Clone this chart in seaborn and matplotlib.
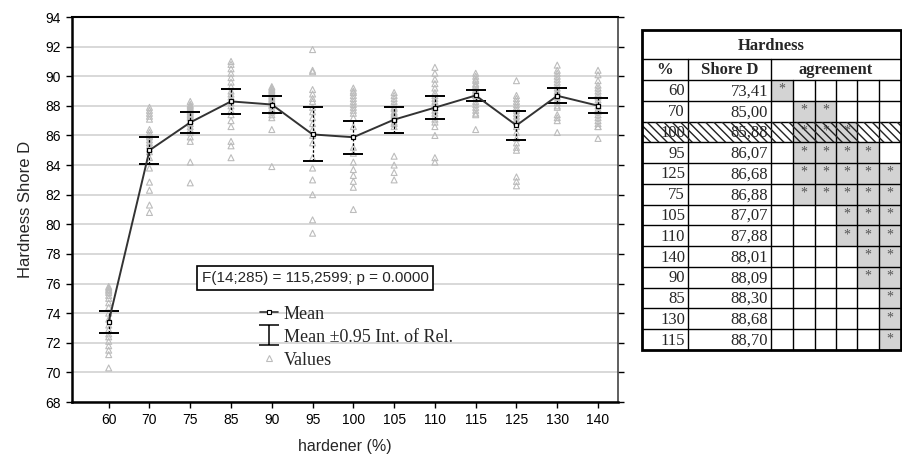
import numpy as np
import pandas as pd
import matplotlib
matplotlib.use("Agg")
import matplotlib.pyplot as plt
import seaborn as sns
from matplotlib.lines import Line2D
from matplotlib.patches import Rectangle
from matplotlib.path import Path

# ---------------- data ----------------
categories = ["60", "70", "75", "85", "90", "95", "100", "105", "110", "115", "125", "130", "140"]
means = [73.41, 85.00, 86.88, 88.30, 88.09, 86.07, 85.88, 87.07, 87.88, 88.70, 86.68, 88.68, 88.01]
ci_half = [0.75, 0.91, 0.68, 0.85, 0.55, 1.82, 1.12, 0.88, 0.80, 0.37, 0.96, 0.50, 0.50]

values_60 = [75.8, 75.7, 75.6, 75.5, 75.4, 75.2, 75.0, 74.7, 74.4, 74.0, 73.6, 73.2, 72.9, 72.6, 72.4, 72.1, 71.8, 71.5, 71.2, 70.3]
values_70 = [87.9, 87.7, 87.5, 87.3, 87.1, 86.4, 86.2, 86.0, 85.9, 85.7, 85.5, 85.3, 85.1, 84.9, 84.5, 83.8, 82.85, 82.3, 81.3, 80.8]
values_75 = [88.3, 88.1, 88.0, 87.9, 87.8, 87.7, 87.6, 87.5, 87.4, 87.3, 87.2, 87.0, 86.8, 86.6, 86.4, 86.2, 85.9, 85.6, 84.2, 82.8]
values_85 = [91.0, 90.8, 90.5, 90.2, 89.9, 89.6, 89.3, 89.0, 88.8, 88.6, 88.4, 88.2, 88.0, 87.7, 87.4, 87.0, 86.6, 85.6, 85.3, 84.5]
values_90 = [89.3, 89.2, 89.1, 89.0, 88.9, 88.8, 88.7, 88.6, 88.5, 88.4, 88.3, 88.2, 88.1, 88.0, 87.8, 87.6, 87.4, 87.2, 86.4, 83.9]
values_95 = [91.8, 90.4, 90.3, 89.1, 88.8, 88.5, 88.3, 87.9, 87.6, 87.2, 86.8, 86.4, 86.0, 85.5, 84.5, 83.8, 83.0, 82.0, 80.3, 79.4]
values_100 = [89.2, 89.0, 88.9, 88.7, 88.5, 88.3, 88.1, 87.9, 87.7, 87.5, 87.2, 86.6, 85.2, 84.8, 84.2, 83.7, 83.3, 82.9, 82.5, 81.0]
values_105 = [88.9, 88.7, 88.5, 88.3, 88.1, 87.9, 87.8, 87.6, 87.5, 87.4, 87.3, 87.2, 87.1, 86.9, 86.8, 86.6, 84.6, 84.0, 83.5, 83.0]
values_110 = [90.6, 90.2, 89.8, 89.5, 89.2, 88.9, 88.7, 88.5, 88.3, 88.1, 87.9, 87.7, 87.5, 87.3, 87.1, 86.9, 86.6, 86.0, 84.5, 84.2]
values_115 = [90.2, 90.0, 89.8, 89.7, 89.5, 89.4, 89.3, 89.1, 89.0, 88.9, 88.8, 88.7, 88.5, 88.3, 88.1, 87.9, 87.7, 87.5, 87.4, 86.4]
values_125 = [89.7, 88.7, 88.5, 88.3, 88.1, 87.9, 87.7, 87.5, 87.3, 87.1, 86.9, 86.6, 86.2, 85.8, 85.5, 85.2, 85.0, 83.2, 82.9, 82.6]
values_130 = [90.75, 90.4, 90.2, 90.0, 89.8, 89.6, 89.4, 89.2, 89.0, 88.9, 88.8, 88.6, 88.4, 88.2, 88.0, 87.9, 87.4, 87.2, 87.0, 86.2]
values_140 = [90.4, 90.1, 89.7, 89.4, 89.2, 89.0, 88.8, 88.6, 88.4, 88.2, 88.0, 87.8, 87.6, 87.4, 87.2, 87.0, 86.8, 86.6, 86.6, 85.8]

values_by_cat = [values_60, values_70, values_75, values_85, values_90, values_95, values_100,
                 values_105, values_110, values_115, values_125, values_130, values_140]

yticks = list(range(68, 95, 2))
f_text = "F(14;285) = 115,2599; p = 0.0000"
legend_labels = ["Mean", "Mean \u00b10.95 Int. of Rel.", "Values"]

table_title = "Hardness"
table_headers = ["%", "Shore D", "agreement"]
agreement_groups = [
    ["60"],
    ["70", "100", "95", "125", "75"],
    ["70", "100", "95", "125", "75"],
    ["100", "95", "125", "75", "105", "110"],
    ["95", "125", "75", "105", "110", "140", "90"],
    ["125", "75", "105", "110", "140", "90", "85", "130", "115"],
]
hatched_row = "100"

# ---------------- style ----------------
sns.set_style("white")
plt.rcParams["font.family"] = ["Liberation Sans", "DejaVu Sans"]
plt.rcParams["hatch.linewidth"] = 1.0
SERIF = ["Liberation Serif", "DejaVu Serif"]

W, H = 903, 461
fig = plt.figure(figsize=(W / 100, H / 100), dpi=100)
fig.patch.set_facecolor("white")

# ---------------- main chart ----------------
ax = fig.add_axes([72 / W, (H - 402) / H, 546 / W, 385 / H])

df = pd.DataFrame({
    "hardener": np.repeat(categories, [len(v) for v in values_by_cat]),
    "value": np.concatenate(values_by_cat),
})

sns.stripplot(data=df, x="hardener", y="value", order=categories, jitter=False,
              marker="^", size=4.3, facecolor="none", edgecolor="#bcbcbc",
              linewidth=0.8, ax=ax, zorder=2)

xpos = np.arange(len(categories))
eb = ax.errorbar(xpos, means, yerr=ci_half, fmt="none", ecolor="black",
                 elinewidth=0.9, capsize=7.5, capthick=1.4, zorder=3)
eb[2][0].set_linestyle((0, (2, 1.5)))

ax.plot(xpos, means, color="#333333", lw=1.4, marker="s", ms=3.2, mfc="white",
        mec="black", mew=0.9, zorder=4)

ax.set_xlim(-0.9, 12.49)
ax.set_ylim(68, 94)
ax.set_yticks(yticks)
ax.yaxis.grid(True, color="#d2d2d2", lw=1.2)
ax.xaxis.grid(False)
ax.set_axisbelow(True)

ax.tick_params(axis="y", which="both", left=True, right=True, direction="out",
               length=4, width=1, labelsize=10, pad=4, colors="black")
ax.tick_params(axis="x", bottom=True, direction="out", length=4, width=1,
               labelsize=10, pad=4, colors="black")
for side in ["left", "bottom", "top", "right"]:
    ax.spines[side].set_visible(True)
    ax.spines[side].set_color("black")
ax.spines["left"].set_linewidth(1.8)
ax.spines["bottom"].set_linewidth(1.8)
ax.spines["top"].set_linewidth(1.5)
ax.spines["right"].set_linewidth(1.2)
ax.spines["right"].set_color("#444444")

ax.set_xlabel("hardener (%)", fontsize=11.5)
ax.set_ylabel("Hardness Shore D", fontsize=12)
ax.yaxis.set_label_coords(-0.072, 0.5)
ax.xaxis.set_label_coords(0.5, -0.095)

ax.text(0.445, 0.322, f_text, transform=ax.transAxes, ha="center", va="center",
        fontsize=11, bbox=dict(boxstyle="square,pad=0.3", fc="white", ec="black", lw=1.2),
        zorder=6)

ibeam = Path([(-0.5, 0.5), (0.5, 0.5), (0, 0.5), (0, -0.5), (-0.5, -0.5), (0.5, -0.5)],
             [Path.MOVETO, Path.LINETO, Path.MOVETO, Path.LINETO, Path.MOVETO, Path.LINETO])
handles = [
    Line2D([], [], color="#333333", lw=1.2, marker="s", ms=3.2, mfc="white", mec="black", mew=0.8),
    Line2D([], [], ls="none", marker=ibeam, ms=15, mec="black", mew=1.1),
    Line2D([], [], ls="none", marker="^", ms=4, mfc="none", mec="#bcbcbc", mew=0.8),
]
leg = ax.legend(handles, legend_labels, loc="upper left", bbox_to_anchor=(0.345, 0.25),
                frameon=False, prop={"family": SERIF, "size": 13}, handlelength=1.0,
                handletextpad=0.3, labelspacing=0.33, borderpad=0, borderaxespad=0)

# ---------------- table ----------------
tx0, ty0, tw, th = 642, 30, 259, 320
tax = fig.add_axes([tx0 / W, (H - ty0 - th) / H, tw / W, th / H])
tax.set_xlim(0, tw)
tax.set_ylim(th, 0)
tax.axis("off")

col_edges = [0, 46, 129, 151, 173, 194, 215, 237, 259]
hdr1, hdr2 = 29, 50
n_rows = len(categories)
row_h = (th - hdr2) / n_rows
order = np.argsort(means, kind="stable")
row_cats = [categories[i] for i in order]

gray = "#d3d3d3"
for r, cat in enumerate(row_cats):
    y = hdr2 + r * row_h
    for g, members in enumerate(agreement_groups):
        if cat in members:
            tax.add_patch(Rectangle((col_edges[2 + g], y), col_edges[3 + g] - col_edges[2 + g],
                                    row_h, fc=gray, ec="none", zorder=1))
    if cat == hatched_row:
        tax.add_patch(Rectangle((0, y), tw, row_h, fill=False, hatch="\\\\\\\\",
                                ec="#222222", lw=0, zorder=4))

for yb in [hdr1, hdr2] + [hdr2 + r * row_h for r in range(1, n_rows)]:
    tax.plot([0, tw], [yb, yb], color="black", lw=1.0, zorder=3, clip_on=False)
for xb in col_edges[1:3]:
    tax.plot([xb, xb], [hdr1, th], color="black", lw=1.0, zorder=3, clip_on=False)
for xb in col_edges[3:-1]:
    tax.plot([xb, xb], [hdr2, th], color="black", lw=1.0, zorder=3, clip_on=False)
tax.add_patch(Rectangle((0, 0), tw, th, fill=False, ec="black", lw=2.0, zorder=5, clip_on=False))

tax.text(tw / 2, hdr1 / 2 + 1, table_title, ha="center", va="center", family=SERIF,
         fontweight="bold", fontsize=12, zorder=6)
tax.text((col_edges[0] + col_edges[1]) / 2, (hdr1 + hdr2) / 2 + 1, table_headers[0],
         ha="center", va="center", family=SERIF, fontweight="bold", fontsize=12, zorder=6)
tax.text((col_edges[1] + col_edges[2]) / 2, (hdr1 + hdr2) / 2 + 1, table_headers[1],
         ha="center", va="center", family=SERIF, fontweight="bold", fontsize=12, zorder=6)
tax.text((col_edges[2] + col_edges[-1]) / 2, (hdr1 + hdr2) / 2 + 1, table_headers[2],
         ha="center", va="center", family=SERIF, fontweight="bold", fontsize=12, zorder=6)

for r, idx in enumerate(order):
    cat = categories[idx]
    yc = hdr2 + (r + 0.5) * row_h + 1
    tax.text(col_edges[1] - 3, yc, cat, ha="right", va="center", family=SERIF,
             fontsize=12, zorder=2)
    tax.text(col_edges[2] - 3, yc, f"{means[idx]:.2f}".replace(".", ","), ha="right",
             va="center", family=SERIF, fontsize=12, zorder=2)
    for g, members in enumerate(agreement_groups):
        if cat in members:
            tax.text((col_edges[2 + g] + col_edges[3 + g]) / 2, yc - 2, "*", ha="center",
                     va="center", family=SERIF, fontsize=10, color="#555555", zorder=2)

fig.savefig("out.png", dpi=100, facecolor="white")
